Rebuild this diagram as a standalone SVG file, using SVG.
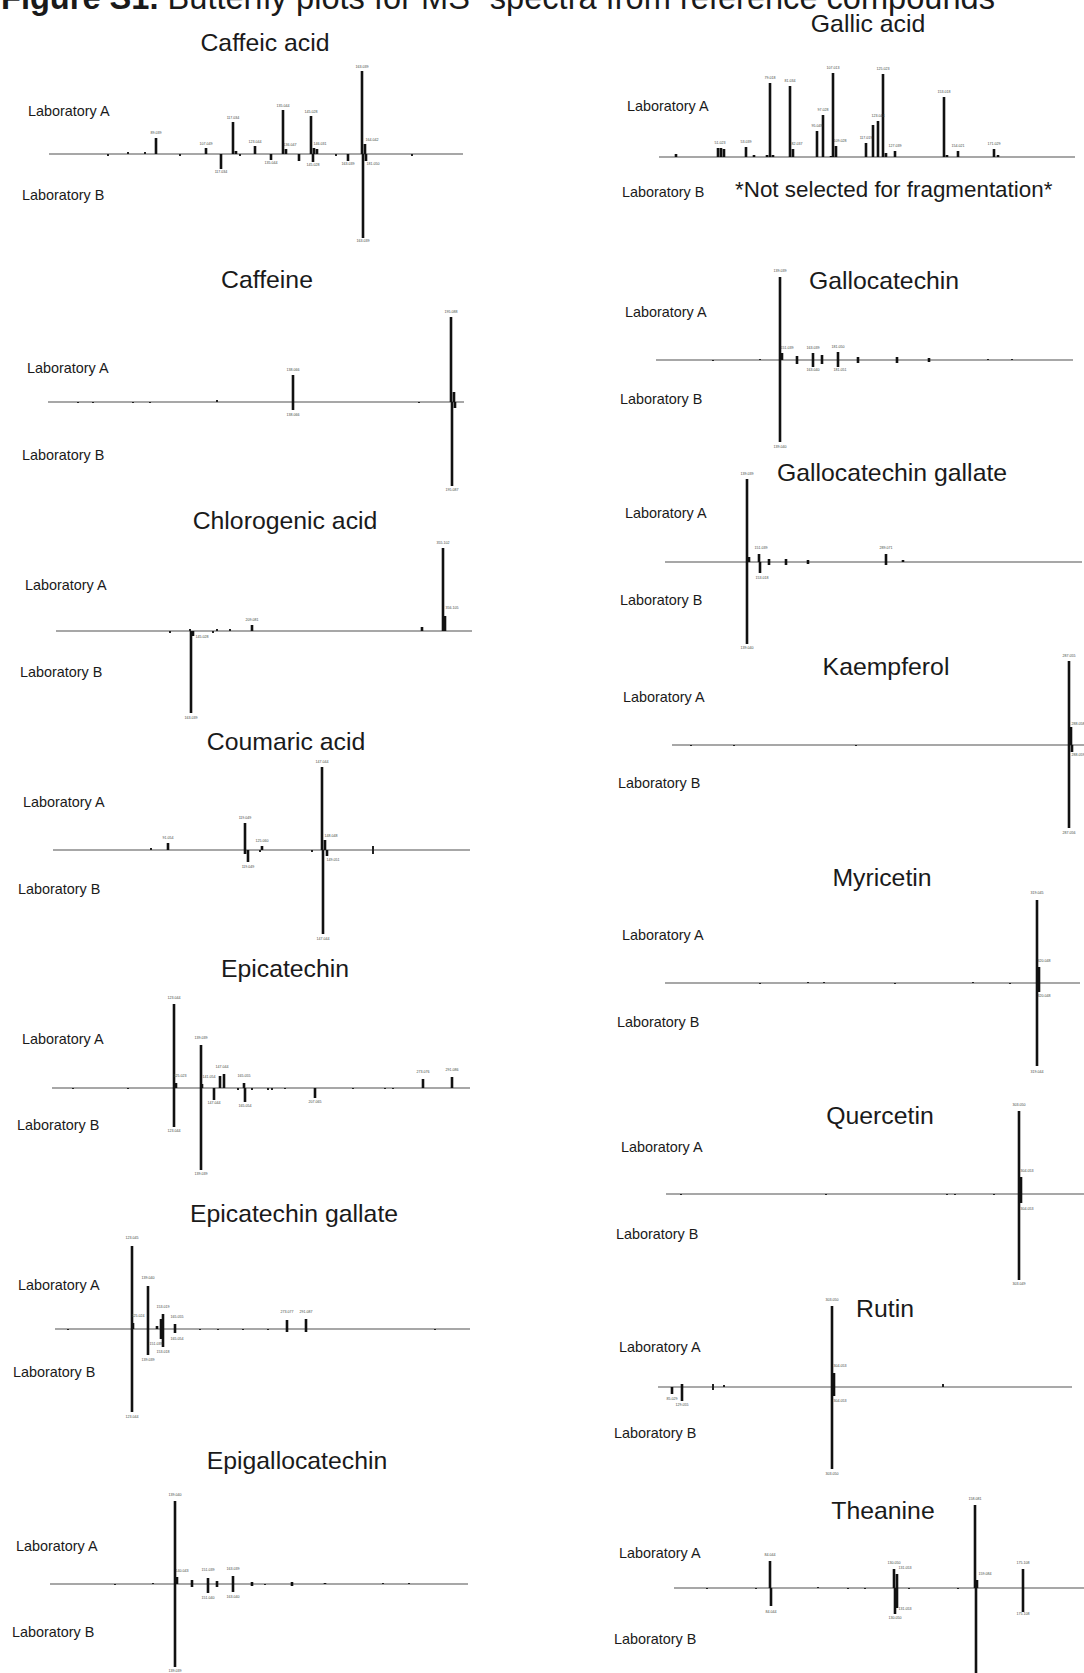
<svg xmlns="http://www.w3.org/2000/svg" width="1084" height="1673" viewBox="0 0 1084 1673">
<style>
text{font-family:"Liberation Sans",Arial,sans-serif;fill:#1a1a1a}
.fig{font-size:32.6px}
.ttl{font-size:24.8px;text-anchor:middle}
.lab{font-size:14.4px}
.nsf{font-size:22.4px}
.ml{font-size:3.6px;text-anchor:middle;fill:#444}
.ax{stroke:#8a8a8a;stroke-width:1.6;fill:none}
.axd{stroke:#555;stroke-width:1.1;fill:none}
.pk{stroke:#111;stroke-width:2.6;fill:none}
.sm{stroke:#222;stroke-width:2;fill:none}
</style>
<rect width="1084" height="1673" fill="#ffffff"/>
<text class="fig" x="1" y="9"><tspan font-weight="bold">Figure S1.</tspan> Butterfly plots for MS² spectra from reference compounds</text>

<g id="caffeic-acid">
<text class="ttl" x="265" y="51">Caffeic acid</text>
<text class="lab" x="28" y="116">Laboratory A</text>
<text class="lab" x="22" y="200">Laboratory B</text>
<line class="ax" x1="49" y1="154" x2="463" y2="154" stroke-width="2.2"/>
<path class="pk" d="M156 154V138M206 154V148M233 154V122M236 154V151M255 154V146M283 154V110M286 154V149M311 154V116M314 154V148M317 154V149M362 154V71M365 154V144M221 154V169M271 154V160M299 154V161M313 154V162M348 154V161M363 154V238M366 154V161"/>
<path class="sm" d="M108 154v2M128 154v-2M145 154v-2M180 154v2M240 154v2M336 154v2M412 154v2"/>
<text class="ml" x="156" y="134">89.039</text><text class="ml" x="206" y="145">107.049</text><text class="ml" x="233" y="119">117.034</text><text class="ml" x="255" y="143">123.044</text><text class="ml" x="283" y="107">135.044</text><text class="ml" x="290" y="146">136.047</text><text class="ml" x="311" y="113">145.028</text><text class="ml" x="320" y="145">146.031</text><text class="ml" x="362" y="68">163.039</text><text class="ml" x="372" y="141">164.042</text>
<text class="ml" x="221" y="173">117.034</text><text class="ml" x="271" y="164">135.044</text><text class="ml" x="313" y="166">145.028</text><text class="ml" x="348" y="165">163.039</text><text class="ml" x="373" y="165">181.050</text><text class="ml" x="363" y="242">163.039</text>
</g>

<g id="gallic-acid">
<text class="ttl" x="868" y="32">Gallic acid</text>
<text class="lab" x="627" y="111">Laboratory A</text>
<text class="lab" x="622" y="197">Laboratory B</text>
<text class="nsf" x="735" y="197">*Not selected for fragmentation*</text>
<line class="ax" x1="659" y1="157" x2="1075" y2="157" stroke-width="1.2"/>
<path class="pk" d="M676 157V154M718 157V148M721 157V148M724 157V149M746 157V147M754 157V155M767 157V155M770 157V83M773 157V155M790 157V86M793 157V149M817 157V131M823 157V115M831 157V156M833 157V73M836 157V146M866 157V143M873 157V125M878 157V121M883 157V74M886 157V153M895 157V151M944 157V97M947 157V155M958 157V151M994 157V149M998 157V155"/>
<text class="ml" x="720" y="144">51.023</text><text class="ml" x="746" y="143">53.039</text><text class="ml" x="770" y="79">79.018</text><text class="ml" x="790" y="82">81.034</text><text class="ml" x="797" y="145">82.037</text><text class="ml" x="817" y="127">95.049</text><text class="ml" x="823" y="111">97.028</text><text class="ml" x="833" y="69">107.013</text><text class="ml" x="840" y="142">109.028</text><text class="ml" x="866" y="139">117.019</text><text class="ml" x="878" y="117">123.044</text><text class="ml" x="883" y="70">125.023</text><text class="ml" x="895" y="147">127.039</text><text class="ml" x="944" y="93">153.018</text><text class="ml" x="958" y="147">154.021</text><text class="ml" x="994" y="145">171.029</text>
</g>

<g id="caffeine">
<text class="ttl" x="267" y="288">Caffeine</text>
<text class="lab" x="27" y="373">Laboratory A</text>
<text class="lab" x="22" y="460">Laboratory B</text>
<line class="ax" x1="48" y1="402" x2="464" y2="402" stroke-width="2.2"/>
<path class="pk" d="M293 402V375M451 402V317M454 402V392M293 402V410M452 402V486M455 402V408"/>
<path class="sm" d="M217 402v-2M78 402v1M93 402v1M133 402v1M150 402v1M419 402v1"/>
<text class="ml" x="293" y="371">138.066</text><text class="ml" x="451" y="313">195.088</text><text class="ml" x="293" y="416">138.066</text><text class="ml" x="452" y="491">195.087</text>
</g>

<g id="gallocatechin">
<text class="ttl" x="884" y="289">Gallocatechin</text>
<text class="lab" x="625" y="317">Laboratory A</text>
<text class="lab" x="620" y="404">Laboratory B</text>
<line class="ax" x1="656" y1="360" x2="1073" y2="360" stroke-width="1.2"/>
<path class="pk" d="M780 360V277M780 360V442M782 360V353M797 360V356M797 360V364M813 360V353M813 360V367M822 360V355M822 360V364M838 360V352M838 360V367M858 360V357M858 360V363M897 360V357M897 360V363M929 360V358M929 360V362"/>
<path class="sm" d="M713 360v1M760 360v-1M988 360v-1M1012 360v-1"/>
<text class="ml" x="780" y="272">139.039</text><text class="ml" x="787" y="349">151.039</text><text class="ml" x="813" y="349">163.039</text><text class="ml" x="838" y="348">181.050</text><text class="ml" x="813" y="371">163.040</text><text class="ml" x="840" y="371">181.051</text><text class="ml" x="780" y="448">139.040</text>
</g>

<g id="gallocatechin-gallate">
<text class="ttl" x="892" y="481">Gallocatechin gallate</text>
<text class="lab" x="625" y="518">Laboratory A</text>
<text class="lab" x="620" y="605">Laboratory B</text>
<line class="ax" x1="665" y1="562" x2="1082" y2="562" stroke-width="1.2"/>
<path class="pk" d="M747 562V479M747 562V644M749 562V557M769 562V559M769 562V565M786 562V559M786 562V565M808 562V560M808 562V564M886 562V554M886 562V565M903 562V560"/>
<path class="pk" stroke-width="4" d="M759 562V554M760 562V573"/>
<text class="ml" x="747" y="475">139.039</text><text class="ml" x="761" y="549">151.039</text><text class="ml" x="762" y="579">153.018</text><text class="ml" x="886" y="549">289.071</text><text class="ml" x="747" y="649">139.040</text>
</g>

<g id="chlorogenic-acid">
<text class="ttl" x="285" y="529">Chlorogenic acid</text>
<text class="lab" x="25" y="590">Laboratory A</text>
<text class="lab" x="20" y="677">Laboratory B</text>
<line class="ax" x1="56" y1="631" x2="472" y2="631"/>
<path class="pk" d="M443 631V548M445 631V616M252 631V625M422 631V627M191 631V713M193 631V636"/>
<path class="sm" d="M217 631v-2M230 631v-2M190 631v-2M170 631v2M213 631v2"/>
<text class="ml" x="443" y="544">355.102</text><text class="ml" x="452" y="609">356.105</text><text class="ml" x="252" y="621">209.081</text><text class="ml" x="202" y="638">145.028</text><text class="ml" x="191" y="719">163.039</text>
</g>

<g id="coumaric-acid">
<text class="ttl" x="286" y="750">Coumaric acid</text>
<text class="lab" x="23" y="807">Laboratory A</text>
<text class="lab" x="18" y="894">Laboratory B</text>
<line class="ax" x1="53" y1="850" x2="470" y2="850" stroke-width="1.3"/>
<path class="pk" d="M322 850V767M325 850V840M245 850V823M168 850V843M262 850V846M323 850V934M327 850V856M248 850V862M245 850V854"/>
<path class="sm" d="M151 850v-2M312 850v2M373 850v-4M373 850v4M260 850v2"/>
<text class="ml" x="168" y="839">91.054</text><text class="ml" x="245" y="819">119.049</text><text class="ml" x="262" y="842">125.060</text><text class="ml" x="322" y="763">147.044</text><text class="ml" x="331" y="837">148.048</text><text class="ml" x="248" y="868">119.049</text><text class="ml" x="333" y="861">149.051</text><text class="ml" x="323" y="940">147.044</text>
</g>

<g id="epicatechin">
<text class="ttl" x="285" y="977">Epicatechin</text>
<text class="lab" x="22" y="1044">Laboratory A</text>
<text class="lab" x="17" y="1130">Laboratory B</text>
<line class="ax" x1="52" y1="1088" x2="470" y2="1088" stroke-width="1.3"/>
<path class="pk" d="M174 1088V1004M176 1088V1083M201 1088V1045M202 1088V1084M220 1088V1076M224 1088V1074M244 1088V1083M423 1088V1079M452 1088V1077M174 1088V1127M201 1088V1170M214 1088V1100M245 1088V1102M315 1088V1098"/>
<path class="sm" d="M238 1088v2M252 1088v2M268 1088v2M272 1088v2M73 1088v1M128 1088v1M285 1088v1M353 1088v1M385 1088v1M393 1088v1"/>
<text class="ml" x="174" y="999">123.044</text><text class="ml" x="180" y="1077">125.023</text><text class="ml" x="201" y="1039">139.039</text><text class="ml" x="209" y="1078">141.054</text><text class="ml" x="222" y="1068">147.044</text><text class="ml" x="244" y="1077">165.055</text><text class="ml" x="423" y="1073">273.076</text><text class="ml" x="452" y="1071">291.086</text>
<text class="ml" x="174" y="1132">123.044</text><text class="ml" x="201" y="1175">139.039</text><text class="ml" x="214" y="1104">147.044</text><text class="ml" x="245" y="1107">165.054</text><text class="ml" x="315" y="1103">207.065</text>
</g>

<g id="epicatechin-gallate">
<text class="ttl" x="294" y="1222">Epicatechin gallate</text>
<text class="lab" x="18" y="1290">Laboratory A</text>
<text class="lab" x="13" y="1377">Laboratory B</text>
<line class="ax" x1="55" y1="1329" x2="470" y2="1329" stroke-width="1.3"/>
<path class="pk" d="M132 1329V1246M133 1329V1323M148 1329V1286M157 1329V1326M161 1329V1319M163 1329V1314M175 1329V1324M287 1329V1320M306 1329V1319M132 1329V1412M148 1329V1355M161 1329V1339M163 1329V1347M175 1329V1333M287 1329V1332M306 1329V1332"/>
<path class="sm" d="M200 1329v1M218 1329v1M243 1329v1M268 1329v1M435 1329v1M68 1329v1"/>
<text class="ml" x="132" y="1239">123.045</text><text class="ml" x="148" y="1279">139.040</text><text class="ml" x="138" y="1317">125.024</text><text class="ml" x="163" y="1308">153.019</text><text class="ml" x="177" y="1318">165.055</text><text class="ml" x="287" y="1313">273.077</text><text class="ml" x="306" y="1313">291.087</text>
<text class="ml" x="132" y="1418">123.044</text><text class="ml" x="148" y="1361">139.039</text><text class="ml" x="156" y="1345">151.039</text><text class="ml" x="163" y="1353">153.018</text><text class="ml" x="177" y="1340">165.054</text>
</g>

<g id="epigallocatechin">
<text class="ttl" x="297" y="1469">Epigallocatechin</text>
<text class="lab" x="16" y="1551">Laboratory A</text>
<text class="lab" x="12" y="1637">Laboratory B</text>
<line class="ax" x1="50" y1="1584" x2="468" y2="1584" stroke-width="1.3"/>
<path class="pk" d="M175 1584V1501M175 1584V1667M177 1584V1577M192 1584V1580M192 1584V1587M208 1584V1578M208 1584V1593M217 1584V1581M217 1584V1587M233 1584V1576M233 1584V1592M252 1584V1582M252 1584V1586M292 1584V1582M292 1584V1586M325 1584V1583"/>
<path class="sm" d="M153 1584v-1M383 1584v-1M409 1584v-1M115 1584v1M265 1584v1"/>
<text class="ml" x="175" y="1496">139.040</text><text class="ml" x="182" y="1572">140.043</text><text class="ml" x="208" y="1571">151.039</text><text class="ml" x="233" y="1570">163.039</text><text class="ml" x="208" y="1599">151.040</text><text class="ml" x="233" y="1598">163.040</text><text class="ml" x="175" y="1672">139.039</text>
</g>

<g id="kaempferol">
<text class="ttl" x="886" y="675">Kaempferol</text>
<text class="lab" x="623" y="702">Laboratory A</text>
<text class="lab" x="618" y="788">Laboratory B</text>
<line class="ax" x1="672" y1="745" x2="1084" y2="745" stroke-width="1.2"/>
<path class="pk" d="M1069 745V661M1069 745V828M1072 745V752"/>
<path class="pk" stroke-width="3.4" d="M1071 745V727"/>
<path class="sm" d="M691 745v1M734 745v1M856 745v1"/>
<text class="ml" x="1069" y="657">287.055</text><text class="ml" x="1078" y="725">288.058</text><text class="ml" x="1078" y="756">288.059</text><text class="ml" x="1069" y="834">287.056</text>
</g>

<g id="myricetin">
<text class="ttl" x="882" y="886">Myricetin</text>
<text class="lab" x="622" y="940">Laboratory A</text>
<text class="lab" x="617" y="1027">Laboratory B</text>
<line class="ax" x1="665" y1="983" x2="1080" y2="983" stroke-width="1.2"/>
<path class="pk" d="M1037 983V900M1037 983V1066M1039 983V992"/>
<path class="pk" stroke-width="3.4" d="M1039 983V967"/>
<path class="sm" d="M808 983v-1M824 983v-1M973 983v-1M760 983v1M895 983v1M1010 983v1"/>
<text class="ml" x="1037" y="894">319.045</text><text class="ml" x="1044" y="962">320.048</text><text class="ml" x="1044" y="997">320.048</text><text class="ml" x="1037" y="1073">319.044</text>
</g>

<g id="quercetin">
<text class="ttl" x="880" y="1124">Quercetin</text>
<text class="lab" x="621" y="1152">Laboratory A</text>
<text class="lab" x="616" y="1239">Laboratory B</text>
<line class="ax" x1="666" y1="1194" x2="1084" y2="1194" stroke-width="2.2"/>
<path class="pk" d="M1019 1194V1111M1019 1194V1280M1021 1194V1177M1021 1194V1203"/>
<path class="sm" d="M681 1194v1M826 1194v1M947 1194v1M955 1194v1M994 1194v1"/>
<text class="ml" x="1019" y="1106">303.050</text><text class="ml" x="1027" y="1172">304.053</text><text class="ml" x="1027" y="1210">304.053</text><text class="ml" x="1019" y="1285">303.049</text>
</g>

<g id="rutin">
<text class="ttl" x="885" y="1317">Rutin</text>
<text class="lab" x="619" y="1352">Laboratory A</text>
<text class="lab" x="614" y="1438">Laboratory B</text>
<line class="axd" x1="658" y1="1387" x2="1072" y2="1387"/>
<path class="pk" d="M832 1387V1306M832 1387V1469M834 1387V1373M834 1387V1396M672 1387V1394M682 1387V1401M682 1387V1384"/>
<path class="sm" d="M713 1387v-3M713 1387v3M724 1387v-2M943 1387v-3"/>
<text class="ml" x="832" y="1301">303.050</text><text class="ml" x="840" y="1367">304.053</text><text class="ml" x="840" y="1402">304.053</text><text class="ml" x="832" y="1475">303.050</text><text class="ml" x="672" y="1400">85.029</text><text class="ml" x="682" y="1406">129.055</text>
</g>

<g id="theanine">
<text class="ttl" x="883" y="1519">Theanine</text>
<text class="lab" x="619" y="1558">Laboratory A</text>
<text class="lab" x="614" y="1644">Laboratory B</text>
<line class="ax" x1="674" y1="1588" x2="1084" y2="1588" stroke-width="1.3"/>
<path class="pk" d="M770 1588V1561M894 1588V1569M897 1588V1574M975 1588V1505M977 1588V1580M1023 1588V1569M771 1588V1606M895 1588V1614M897 1588V1608M976 1588V1673M1023 1588V1612"/>
<path class="sm" d="M707 1588v1M756 1588v1M818 1588v-1M848 1588v1M865 1588v1M909 1588v1M958 1588v1"/>
<text class="ml" x="770" y="1556">84.044</text><text class="ml" x="894" y="1564">130.050</text><text class="ml" x="905" y="1569">131.053</text><text class="ml" x="975" y="1500">158.081</text><text class="ml" x="985" y="1575">159.084</text><text class="ml" x="1023" y="1564">175.108</text>
<text class="ml" x="771" y="1613">84.044</text><text class="ml" x="895" y="1619">130.050</text><text class="ml" x="905" y="1610">131.053</text><text class="ml" x="1023" y="1615">175.108</text>
</g>
</svg>
